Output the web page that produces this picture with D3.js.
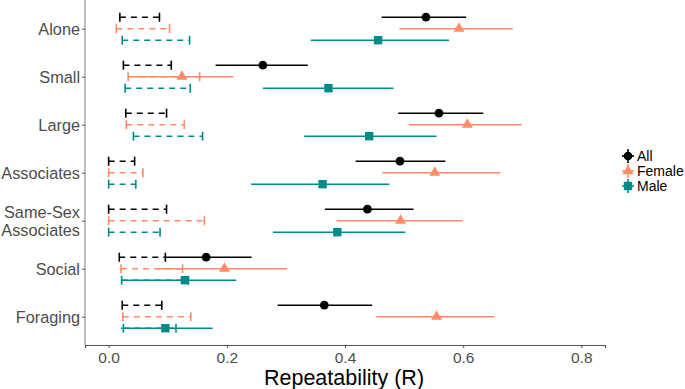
<!DOCTYPE html>
<html>
<head>
<meta charset="utf-8">
<script src="https://cdn.jsdelivr.net/npm/d3@7"></script>
<style>
  html, body { margin: 0; padding: 0; background: #fff; }
  svg { display: block; font-family: "Liberation Sans", Arial, sans-serif; }
</style>
</head>
<body>
<svg id="chart" width="685" height="389"></svg>
<script>
// ---- data ----
const categories = ["Alone", "Small", "Large", "Associates", "Same-Sex Associates", "Social", "Foraging"];
const groups = ["All", "Female", "Male"];

const allEst   = [0.537, 0.261, 0.559, 0.493, 0.438, 0.165, 0.365];
const allLow   = [0.462, 0.181, 0.490, 0.418, 0.366, 0.096, 0.286];
const allHigh  = [0.605, 0.337, 0.634, 0.570, 0.516, 0.242, 0.446];
const allNullLow  = [0.019, 0.025, 0.029, 0.000, 0.000, 0.018, 0.023];
const allNullHigh = [0.086, 0.106, 0.098, 0.044, 0.098, 0.096, 0.090];

const femaleEst  = [0.593, 0.124, 0.607, 0.552, 0.494, 0.196, 0.555];
const femaleLow  = [0.492, 0.042, 0.508, 0.463, 0.386, 0.082, 0.453];
const femaleHigh = [0.684, 0.211, 0.699, 0.663, 0.599, 0.302, 0.653];
const femaleNullLow  = [0.013, 0.033, 0.030, 0.000, 0.000, 0.021, 0.024];
const femaleNullHigh = [0.103, 0.154, 0.128, 0.058, 0.162, 0.125, 0.139];

const maleEst  = [0.456, 0.372, 0.441, 0.362, 0.387, 0.129, 0.096];
const maleLow  = [0.342, 0.261, 0.331, 0.241, 0.278, 0.021, 0.021];
const maleHigh = [0.576, 0.482, 0.555, 0.475, 0.502, 0.216, 0.176];
const maleNullLow  = [0.023, 0.028, 0.042, 0.000, 0.000, 0.022, 0.025];
const maleNullHigh = [0.137, 0.138, 0.159, 0.046, 0.087, 0.135, 0.114];

const xTicks = [0.0, 0.2, 0.4, 0.6, 0.8];

// ---- build table ----
const seriesData = {
  All:    {est: allEst, low: allLow, high: allHigh, nlow: allNullLow, nhigh: allNullHigh},
  Female: {est: femaleEst, low: femaleLow, high: femaleHigh, nlow: femaleNullLow, nhigh: femaleNullHigh},
  Male:   {est: maleEst, low: maleLow, high: maleHigh, nlow: maleNullLow, nhigh: maleNullHigh}
};
const rows = [];
groups.forEach(g => categories.forEach((c, i) => rows.push({
  group: g, cat: c,
  est: seriesData[g].est[i], low: seriesData[g].low[i], high: seriesData[g].high[i],
  nlow: seriesData[g].nlow[i], nhigh: seriesData[g].nhigh[i]
})));

const colors = {All: "#000000", Female: "#FF8C69", Male: "#008B8B"};
const symbols = {All: d3.symbolCircle, Female: d3.symbolTriangle, Male: d3.symbolSquare};
const symSize = {All: 60, Female: 52, Male: 70};

// ---- layout ----
const panel = {left: 85, right: 605, top: 0, bottom: 345};
const svg = d3.select("#chart");

const x = d3.scaleLinear().domain([-0.04, 0.84]).range([panel.left, panel.right]);
const y = d3.scalePoint().domain(categories).range([28.7, 316.7]);
const dodge = d3.scalePoint().domain(groups).range([-11.5, 11.5]);
const yPos = d => y(d.cat) + dodge(d.group);

// axes
const xAxis = d3.axisBottom(x).tickValues(xTicks).tickFormat(d3.format(".1f")).tickSize(3).tickPadding(4);
const gx = svg.append("g").attr("transform", `translate(0,${panel.bottom})`).call(xAxis);
gx.select(".domain").attr("stroke", "#555").attr("stroke-width", 1.2);
gx.selectAll(".tick line").attr("stroke", "#555");
gx.selectAll(".tick text").attr("fill", "#4d4d4d").attr("font-size", 15.5).attr("font-family", "Liberation Sans, Arial, sans-serif");

const yAxis = d3.axisLeft(y).tickSize(3).tickFormat("");
const gy = svg.append("g").attr("transform", `translate(${panel.left},0)`).call(yAxis);
gy.select(".domain").attr("stroke", "#bdbdbd").attr("stroke-width", 2).attr("d", `M0,${panel.top}V${panel.bottom}`);
gy.selectAll(".tick line").attr("stroke", "#555");

// y labels (allow multi-line)
const lh = 18;
categories.forEach(c => {
  const words = c === "Same-Sex Associates" ? ["Same-Sex", "Associates"] : [c];
  const t = svg.append("text")
    .attr("x", 80).attr("text-anchor", "end")
    .attr("font-size", 16.3).attr("fill", "#4d4d4d");
  const y0 = y(c) - (words.length - 1) * lh / 2;
  words.forEach((w, k) => t.append("tspan").attr("x", 80).attr("y", y0 + k * lh).attr("dy", "0.36em").text(w));
});

// x title
svg.append("text").attr("x", (panel.left + panel.right) / 2 - 1).attr("y", 385)
  .attr("text-anchor", "middle").attr("font-size", 21.5).attr("fill", "#000")
  .text("Repeatability (R)");

// ---- marks ----
const marks = svg.append("g");
const capH = 4.5;

// solid CIs
marks.selectAll("line.ci").data(rows).join("line").attr("class", "ci")
  .attr("x1", d => x(d.low)).attr("x2", d => x(d.high))
  .attr("y1", yPos).attr("y2", yPos)
  .attr("stroke", d => colors[d.group]).attr("stroke-width", 1.6);

// dashed null intervals
marks.selectAll("line.null").data(rows).join("line").attr("class", "null")
  .attr("x1", d => x(d.nlow)).attr("x2", d => x(d.nhigh))
  .attr("y1", yPos).attr("y2", yPos)
  .attr("stroke", d => colors[d.group]).attr("stroke-width", 1.6)
  .attr("stroke-dasharray", "6,5");
["nlow", "nhigh"].forEach(k => {
  marks.selectAll("line.cap-" + k).data(rows).join("line").attr("class", "cap-" + k)
    .attr("x1", d => x(d[k])).attr("x2", d => x(d[k]))
    .attr("y1", d => yPos(d) - capH).attr("y2", d => yPos(d) + capH)
    .attr("stroke", d => colors[d.group]).attr("stroke-width", 1.6);
});

// points
marks.selectAll("path.pt").data(rows).join("path").attr("class", "pt")
  .attr("transform", d => `translate(${x(d.est)},${yPos(d)})`)
  .attr("d", d => d3.symbol().type(symbols[d.group]).size(symSize[d.group])())
  .attr("fill", d => colors[d.group]);

// ---- legend ----
const legend = svg.append("g");
const legY = d3.scalePoint().domain(groups).range([156, 186]);
groups.forEach(g => {
  const gy0 = legY(g), gx0 = 628;
  legend.append("line").attr("x1", gx0).attr("x2", gx0).attr("y1", gy0 - 7).attr("y2", gy0 + 7)
    .attr("stroke", colors[g]).attr("stroke-width", 1.6);
  legend.append("line").attr("x1", gx0 - 6).attr("x2", gx0 + 6).attr("y1", gy0).attr("y2", gy0)
    .attr("stroke", colors[g]).attr("stroke-width", 1.6);
  legend.append("path").attr("transform", `translate(${gx0},${gy0})`)
    .attr("d", d3.symbol().type(symbols[g]).size(symSize[g])()).attr("fill", colors[g]);
  legend.append("text").attr("x", 637).attr("y", gy0).attr("dy", "0.36em")
    .attr("font-size", 14).attr("fill", "#000").text(g);
});
</script>
</body>
</html>
